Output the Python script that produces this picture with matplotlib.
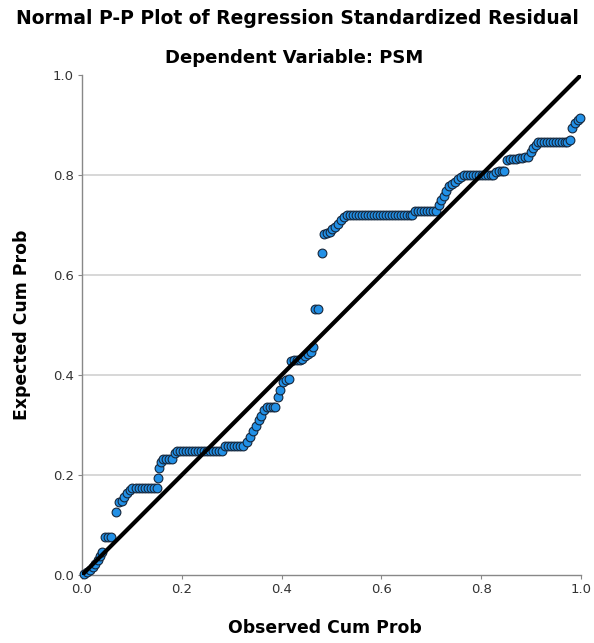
import matplotlib
matplotlib.use("Agg")
import matplotlib.pyplot as plt

# Observed cumulative probability (x) and expected cumulative probability (y)
observed_cum_prob = [
    0.004, 0.010, 0.016, 0.022, 0.027, 0.032, 0.036, 0.040,
    0.046, 0.052, 0.058,
    0.069, 0.075, 0.080, 0.085, 0.090, 0.096,
    0.101, 0.108, 0.114, 0.120, 0.126, 0.132, 0.138, 0.144, 0.150,
    0.152, 0.155, 0.158,
    0.162, 0.168, 0.174, 0.180,
    0.186,
    0.190, 0.196, 0.202, 0.208, 0.214, 0.220, 0.226, 0.232, 0.238, 0.244,
    0.250, 0.256, 0.262, 0.268, 0.274, 0.280,
    0.287, 0.293, 0.299, 0.305, 0.311, 0.317, 0.323,
    0.330, 0.336, 0.343, 0.348, 0.354, 0.359, 0.364,
    0.370, 0.376, 0.382, 0.387,
    0.392, 0.397, 0.403, 0.409, 0.414,
    0.419, 0.424, 0.430, 0.436, 0.441, 0.446, 0.452, 0.458, 0.463,
    0.467, 0.473,
    0.481, 0.484, 0.490, 0.496, 0.502, 0.508, 0.513, 0.519, 0.525,
    0.531, 0.537, 0.543, 0.549, 0.555, 0.561, 0.567, 0.573, 0.579, 0.585,
    0.591, 0.597, 0.603, 0.609, 0.615, 0.621, 0.627, 0.633, 0.639, 0.645,
    0.651, 0.657, 0.662,
    0.667, 0.673, 0.679, 0.685, 0.691, 0.697, 0.703, 0.709,
    0.715, 0.720, 0.725, 0.730, 0.735, 0.741, 0.747, 0.753, 0.759,
    0.765, 0.771, 0.777, 0.783, 0.789, 0.795, 0.801, 0.807, 0.813, 0.819, 0.824,
    0.829, 0.835, 0.841, 0.846,
    0.852, 0.858, 0.864, 0.870, 0.876, 0.882, 0.888, 0.894,
    0.899, 0.904, 0.909,
    0.914, 0.920, 0.926, 0.932, 0.938, 0.944, 0.950, 0.956, 0.962, 0.968, 0.972,
    0.978, 0.982, 0.988, 0.993, 0.998,
]
expected_cum_prob = [
    0.002, 0.006, 0.010, 0.016, 0.022, 0.030, 0.038, 0.046,
    0.076, 0.076, 0.076,
    0.126, 0.146, 0.148, 0.156, 0.164, 0.170,
    0.174, 0.174, 0.174, 0.174, 0.174, 0.174, 0.174, 0.174, 0.174,
    0.194, 0.214, 0.226,
    0.232, 0.232, 0.232, 0.232,
    0.244,
    0.248, 0.248, 0.248, 0.248, 0.248, 0.248, 0.248, 0.248, 0.248, 0.248,
    0.248, 0.248, 0.248, 0.248, 0.248, 0.248,
    0.258, 0.258, 0.258, 0.258, 0.258, 0.258, 0.258,
    0.266, 0.276, 0.288, 0.298, 0.310, 0.318, 0.330,
    0.336, 0.336, 0.336, 0.336,
    0.356, 0.370, 0.386, 0.390, 0.392,
    0.428, 0.430, 0.430, 0.430, 0.432, 0.438, 0.442, 0.446, 0.456,
    0.532, 0.532,
    0.644, 0.682, 0.684, 0.686, 0.692, 0.696, 0.702, 0.710, 0.716,
    0.720, 0.720, 0.720, 0.720, 0.720, 0.720, 0.720, 0.720, 0.720, 0.720,
    0.720, 0.720, 0.720, 0.720, 0.720, 0.720, 0.720, 0.720, 0.720, 0.720,
    0.720, 0.720, 0.720,
    0.728, 0.728, 0.728, 0.728, 0.728, 0.728, 0.728, 0.728,
    0.740, 0.750, 0.758, 0.768, 0.778, 0.782, 0.786, 0.792, 0.796,
    0.800, 0.800, 0.800, 0.800, 0.800, 0.800, 0.800, 0.800, 0.800, 0.800, 0.800,
    0.806, 0.808, 0.808, 0.808,
    0.830, 0.832, 0.832, 0.832, 0.834, 0.834, 0.836, 0.836,
    0.846, 0.854, 0.860,
    0.866, 0.866, 0.866, 0.866, 0.866, 0.866, 0.866, 0.866, 0.866, 0.866, 0.866,
    0.870, 0.894, 0.904, 0.910, 0.914,
]
tick_values = [0.0, 0.2, 0.4, 0.6, 0.8, 1.0]
tick_labels = ["0.0", "0.2", "0.4", "0.6", "0.8", "1.0"]
grid_values = [0.2, 0.4, 0.6, 0.8]

fig = plt.figure(figsize=(5.94, 6.43), dpi=100)
ax = fig.add_axes([82/594, 68/643, 499/594, 500/643])

for g in grid_values:
    ax.axhline(g, color="#d4d4d4", linewidth=1.3, zorder=0)

ax.scatter(observed_cum_prob, expected_cum_prob, s=40, facecolor="#2290e6",
           edgecolor="#16263a", linewidth=0.8, zorder=3, clip_on=False)
ax.plot([0, 1], [0, 1], color="black", linewidth=3.0, zorder=4,
        solid_capstyle="butt")

ax.set_xlim(0, 1)
ax.set_ylim(0, 1)
ax.set_xticks(tick_values)
ax.set_xticklabels(tick_labels)
ax.set_yticks(tick_values)
ax.set_yticklabels(tick_labels)
for side in ["top", "right"]:
    ax.spines[side].set_visible(False)
for side in ["left", "bottom"]:
    ax.spines[side].set_color("#888888")
    ax.spines[side].set_linewidth(1.0)
ax.tick_params(axis="both", length=3, width=0.8, color="#888888",
               labelsize=9.5, labelcolor="#333333", pad=3)

fig.text(0.5, 1 - 18/643, "Normal P-P Plot of Regression Standardized Residual",
         ha="center", va="center", fontsize=13.5, fontweight="bold")
fig.text(0.495, 1 - 58/643, "Dependent Variable: PSM",
         ha="center", va="center", fontsize=13, fontweight="bold")
fig.text(325/594, 1 - 628/643, "Observed Cum Prob",
         ha="center", va="center", fontsize=12.4, fontweight="bold")
fig.text(22/594, 1 - 325/643, "Expected Cum Prob", rotation=90,
         ha="center", va="center", fontsize=12.4, fontweight="bold")

fig.savefig("out.png", dpi=100)
